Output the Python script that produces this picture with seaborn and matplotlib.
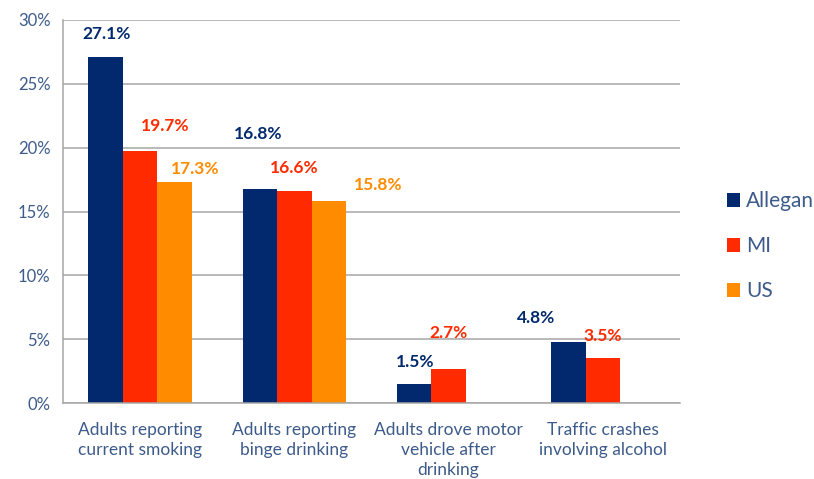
import numpy as np
import pandas as pd
import seaborn as sns
import matplotlib.pyplot as plt

# data
categories = ['Adults reporting\ncurrent smoking',
              'Adults reporting\nbinge drinking',
              'Adults drove motor\nvehicle after\ndrinking',
              'Traffic crashes\ninvolving alcohol']
allegan = [27.1, 16.8, 1.5, 4.8]
mi = [19.7, 16.6, 2.7, 3.5]
us = [17.3, 15.8, np.nan, np.nan]
series_names = ['Allegan', 'MI', 'US']
y_ticks = [0, 5, 10, 15, 20, 25, 30]

colors = ['#02296D', '#FF2A00', '#FF8C00']
text_color = '#3D5B8A'
grid_color = '#A6A6A6'

# label nudges (pixels) so value labels sit where the original put them
label_offsets = {
    'Allegan': [(1, 23), (-2, 55), (1, 22), (-32, 24)],
    'MI': [(25, 25), (0, 23), (0, 36), (0, 22)],
    'US': [(21, 13), (49, 16), (0, 0), (0, 0)],
}

rows = []
for name, vals in zip(series_names, [allegan, mi, us]):
    for cat, v in zip(categories, vals):
        rows.append({'Category': cat, 'Series': name, 'Value': v})
df = pd.DataFrame(rows)

sns.set_style('white')
plt.rcParams['font.family'] = ['Lato', 'DejaVu Sans']

fig = plt.figure(figsize=(8.14, 4.79), dpi=100)
ax = fig.add_axes([63 / 814, 1 - 403 / 479, 617 / 814, 383 / 479])

sns.barplot(data=df, x='Category', y='Value', hue='Series',
            hue_order=series_names, palette=colors, width=0.67, gap=0,
            saturation=1, linewidth=0, errorbar=None, ax=ax)

ax.set_xlim(-0.5, len(categories) - 0.5)
ax.set_ylim(0, 30)
ax.set_yticks(y_ticks)
ax.set_yticklabels([f'{t}%' for t in y_ticks])
ax.set_xlabel('')
ax.set_ylabel('')

ax.grid(axis='y', color=grid_color, linewidth=1.1)
ax.set_axisbelow(True)
for side in ['top', 'right']:
    ax.spines[side].set_visible(False)
for side in ['left', 'bottom']:
    ax.spines[side].set_color(grid_color)
    ax.spines[side].set_linewidth(1.1)

ax.tick_params(axis='y', length=5, color=grid_color, labelsize=12,
               labelcolor=text_color, pad=4)
ax.tick_params(axis='x', which='major', length=0, labelsize=12.5,
               labelcolor=text_color, pad=14)
ax.set_xticks(np.arange(-0.5, len(categories)), minor=True)
ax.tick_params(axis='x', which='minor', length=5, color=grid_color)
for lab in ax.get_xticklabels():
    lab.set_linespacing(1.3)

# value labels
for container, name, col in zip(ax.containers, series_names, colors):
    for bar, (dx, dy), val in zip(container, label_offsets[name],
                                  df[df['Series'] == name]['Value']):
        if np.isnan(val):
            continue
        x = bar.get_x() + bar.get_width() / 2
        ax.annotate(f'{val:.1f}%', (x, bar.get_height()),
                    xytext=(dx, dy), textcoords='offset pixels',
                    ha='center', va='center', fontsize=12.5,
                    fontweight='bold', color=col)

ax.legend(loc='center left', bbox_to_anchor=(1.045, 0.41), frameon=False,
          fontsize=15, labelcolor=text_color, handlelength=0.65,
          handleheight=0.65, handletextpad=0.3, labelspacing=1.2)

fig.savefig('out.png', dpi=100)
